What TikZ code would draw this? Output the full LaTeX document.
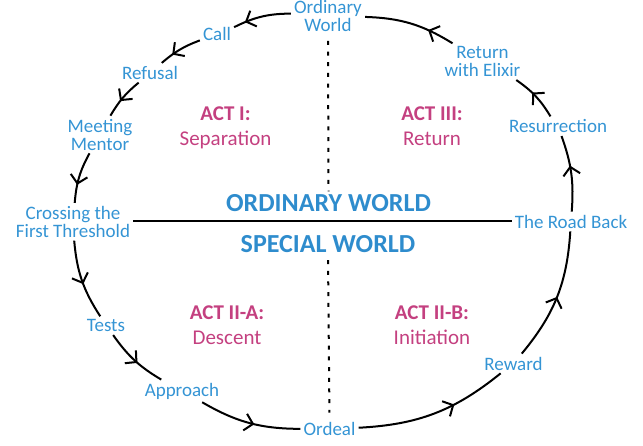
\documentclass[tikz,border=0pt]{standalone}
\usepackage{fontspec}
\setmainfont{Carlito}
\usetikzlibrary{arrows.meta,decorations.markings}
\definecolor{lblblue}{RGB}{52,148,212}
\definecolor{ttlblue}{RGB}{46,140,205}
\definecolor{actmag}{RGB}{196,64,128}
\begin{document}
\begin{tikzpicture}[x=1pt,y=-1pt,
  lbl/.style={text=lblblue, font=\fontsize{19}{18}\selectfont, align=center, inner sep=3pt, anchor=base},
  ttl/.style={text=ttlblue, font=\fontsize{26}{26}\selectfont\bfseries, inner sep=3pt, anchor=base},
  act/.style={text=actmag, font=\fontsize{21}{25}\selectfont, align=center, inner sep=2pt, anchor=base},
  flow/.style={line width=2pt, postaction={decorate},
    decoration={markings, mark=at position #1 with {\arrow[line width=2pt]{Straight Barb[length=8pt,width=17pt]}}}},
  divider/.style={line width=2.2pt},
  dots/.style={line width=2pt, dash pattern=on 4pt off 6.7pt}
]
\useasboundingbox (0,0) rectangle (643,445);

% stage labels (base = baseline of the last line)
\node[lbl] (ow) at (328,31.5) {Ordinary\\World};
\node[lbl] (call) at (217,40.7) {Call};
\node[lbl] (ref) at (150,79.3) {Refusal};
\node[lbl] (meet) at (100,150) {Meeting\\Mentor};
\node[lbl] (cross) at (73,237.3) {Crossing the\\First Threshold};
\node[lbl] (tests) at (106,331.7) {Tests};
\node[lbl] (appr) at (182,396) {Approach};
\node[lbl] (ord) at (329.5,435) {Ordeal};
\node[lbl] (rew) at (513.5,370) {Reward};
\node[lbl] (road) at (571,228) {The Road Back};
\node[lbl] (res) at (558,132.7) {Resurrection};
\node[lbl] (ret) at (482.5,76.7) {Return\\with Elixir};

% world titles
\node[ttl] (ordt) at (328.5,211.7) {ORDINARY WORLD};
\node[ttl] (spct) at (328,252.7) {SPECIAL WORLD};

% acts
\node[act] (act1) at (225.5,145) {\textbf{ACT I:}\\Separation};
\node[act] (act3) at (432,145) {\textbf{ACT III:}\\Return};
\node[act] (act2a) at (227,344) {\textbf{ACT II-A:}\\Descent};
\node[act] (act2b) at (432,344) {\textbf{ACT II-B:}\\Initiation};

% dividers
\draw[divider] (cross.east |- 0,221) -- (road.west |- 0,221);
\draw[dots, shorten <=6pt] (ow.south) -- (ordt.north);
\draw[dots, shorten <=4pt, shorten >=6pt] (spct.south) -- (ord.north);

% journey
\draw[flow=0.8] (ow) to[bend right=13] (call);
\draw[flow=0.7] (call) to[bend right=10] (ref);
\draw[flow=0.6] (ref) to[bend right=10] (meet);
\draw[flow=0.65] (meet) to[bend right=12] (cross);
\draw[flow=0.55] (cross) to[bend right=14] (tests);
\draw[flow=0.56] (tests) to[bend right=12] (appr);
\draw[flow=0.55] (appr) to[bend right=15] (ord);
\draw[flow=0.64] (ord) to[bend right=18] (rew);
\draw[flow=0.5] (rew) to[bend right=18] (road);
\draw[flow=0.6] (road) to[bend right=12] (res);
\draw[flow=0.6] (res) to[bend right=12] (ret);
\draw[flow=0.3] (ret) to[bend right=15] (ow);
\end{tikzpicture}
\end{document}
